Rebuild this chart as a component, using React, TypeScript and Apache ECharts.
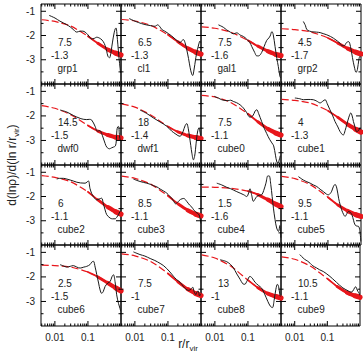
import React, { useEffect, useRef } from "react";
import * as echarts from "echarts";

// Radius (r / r_vir) grid for the fitted slope curves
const rFit = [0.004, 0.01, 0.03, 0.1, 0.2, 0.4, 0.7, 1.0];

// Fitted logarithmic slopes, one per halo, sampled on rFit
const grp1Fit = [-1.35, -1.42, -1.61, -2.03, -2.32, -2.58, -2.73, -2.8];
const cl1Fit = [-1.34, -1.4, -1.58, -1.97, -2.26, -2.53, -2.69, -2.77];
const gal1Fit = [-1.64, -1.7, -1.86, -2.2, -2.44, -2.65, -2.78, -2.83];
const grp2Fit = [-1.72, -1.76, -1.85, -2.1, -2.32, -2.54, -2.69, -2.76];
const dwf0Fit = [-1.58, -1.69, -1.95, -2.39, -2.62, -2.78, -2.87, -2.9];
const dwf1Fit = [-1.51, -1.64, -1.96, -2.43, -2.65, -2.8, -2.88, -2.92];
const cube0Fit = [-1.16, -1.23, -1.45, -1.91, -2.24, -2.53, -2.7, -2.78];
const cube1Fit = [-1.33, -1.37, -1.48, -1.79, -2.06, -2.35, -2.55, -2.66];
const cube2Fit = [-1.14, -1.21, -1.39, -1.81, -2.14, -2.44, -2.63, -2.73];
const cube3Fit = [-1.16, -1.25, -1.49, -1.97, -2.3, -2.57, -2.73, -2.8];
const cube4Fit = [-1.61, -1.62, -1.66, -1.78, -1.92, -2.13, -2.32, -2.42];
const cube5Fit = [-1.17, -1.26, -1.52, -2.03, -2.35, -2.6, -2.75, -2.82];
const cube6Fit = [-1.52, -1.54, -1.6, -1.8, -2.0, -2.25, -2.45, -2.57];
const cube7Fit = [-1.06, -1.14, -1.37, -1.86, -2.2, -2.5, -2.68, -2.76];
const cube8Fit = [-1.1, -1.23, -1.56, -2.13, -2.44, -2.68, -2.8, -2.86];
const cube9Fit = [-1.18, -1.28, -1.56, -2.07, -2.39, -2.64, -2.77, -2.83];

// Measured slope profiles: [r / r_vir, d ln rho / d ln r]
const grp1Profile = [[0.0067,-1.17],[0.0101,-1.28],[0.0143,-1.41],[0.0228,-1.55],[0.03,-1.66],[0.036,-1.75],[0.046,-1.86],[0.058,-1.82],[0.07,-1.82],[0.082,-1.86],[0.1,-1.97],[0.13,-2.14],[0.155,-2.12],[0.184,-2.07],[0.244,-2.14],[0.29,-2.25],[0.33,-2.41],[0.37,-2.65],[0.4,-2.85],[0.448,-2.92],[0.49,-2.75],[0.53,-2.44],[0.58,-2.1],[0.62,-1.89],[0.67,-1.72],[0.71,-1.69],[0.75,-1.9],[0.78,-2.17],[0.83,-2.6],[0.88,-2.99],[0.93,-3.3],[0.97,-3.54]];
const cl1Profile = [[0.0067,-1.3],[0.0101,-1.41],[0.016,-1.51],[0.022,-1.56],[0.029,-1.59],[0.041,-1.62],[0.048,-1.56],[0.056,-1.62],[0.065,-1.75],[0.08,-1.82],[0.103,-1.92],[0.13,-2.02],[0.164,-2.14],[0.2,-2.24],[0.233,-2.3],[0.26,-2.22],[0.295,-2.17],[0.33,-2.3],[0.37,-2.58],[0.42,-2.95],[0.47,-3.33],[0.52,-3.58],[0.56,-3.65],[0.6,-3.5],[0.65,-3.2],[0.7,-2.9],[0.78,-2.58],[0.86,-2.35],[0.93,-2.23],[0.98,-2.3]];
const gal1Profile = [[0.0128,-1.56],[0.018,-1.66],[0.0228,-1.77],[0.03,-1.87],[0.036,-1.93],[0.046,-1.89],[0.058,-1.98],[0.073,-2.04],[0.092,-2.15],[0.115,-2.3],[0.13,-2.45],[0.16,-2.7],[0.185,-2.84],[0.21,-2.84],[0.26,-2.7],[0.31,-2.45],[0.37,-2.2],[0.43,-2.1],[0.47,-2.02],[0.53,-1.84],[0.58,-1.95],[0.66,-2.45],[0.75,-2.95],[0.83,-3.28],[0.93,-3.69],[0.98,-3.75]];
const grp2Profile = [[0.018,-1.42],[0.021,-1.6],[0.0228,-1.75],[0.028,-1.82],[0.035,-1.85],[0.045,-1.86],[0.058,-1.88],[0.075,-1.93],[0.092,-1.97],[0.12,-2.04],[0.146,-2.11],[0.19,-2.22],[0.233,-2.32],[0.27,-2.42],[0.31,-2.42],[0.36,-2.3],[0.42,-2.25],[0.48,-2.45],[0.55,-2.9],[0.63,-3.3],[0.71,-3.52],[0.78,-3.4],[0.86,-3.0],[0.93,-2.86],[0.98,-2.9]];
const dwf0Profile = [[0.0143,-1.76],[0.0228,-1.84],[0.036,-1.98],[0.058,-2.1],[0.075,-2.14],[0.092,-2.15],[0.11,-2.14],[0.13,-2.17],[0.164,-2.42],[0.193,-2.62],[0.23,-2.6],[0.26,-2.72],[0.29,-2.9],[0.33,-3.12],[0.37,-3.27],[0.448,-3.34],[0.52,-3.3],[0.59,-3.27],[0.68,-3.22],[0.72,-3.0],[0.75,-2.6],[0.79,-2.45],[0.84,-2.43],[0.9,-2.8],[0.95,-3.0]];
const dwf1Profile = [[0.0143,-1.76],[0.0228,-1.9],[0.036,-2.08],[0.058,-2.25],[0.092,-2.42],[0.13,-2.62],[0.164,-2.72],[0.2,-2.8],[0.233,-2.83],[0.26,-2.75],[0.29,-2.62],[0.33,-2.4],[0.37,-2.31],[0.41,-2.5],[0.448,-2.83],[0.49,-3.2],[0.53,-3.52],[0.59,-3.79],[0.64,-3.65],[0.68,-3.38],[0.74,-2.9],[0.8,-2.6],[0.86,-2.5],[0.92,-2.62],[0.97,-2.8]];
const cube0Profile = [[0.0095,-1.2],[0.013,-1.28],[0.016,-1.34],[0.02,-1.37],[0.025,-1.38],[0.03,-1.36],[0.036,-1.41],[0.045,-1.46],[0.058,-1.55],[0.073,-1.68],[0.09,-1.85],[0.115,-2.05],[0.14,-2.0],[0.165,-1.8],[0.185,-1.75],[0.21,-1.9],[0.26,-2.23],[0.31,-2.5],[0.37,-2.72],[0.45,-2.95],[0.53,-3.1],[0.6,-3.22],[0.68,-3.6],[0.75,-3.88],[0.82,-3.92],[0.88,-3.8],[0.95,-3.62]];
const cube1Profile = [[0.01,-1.27],[0.014,-1.3],[0.018,-1.34],[0.025,-1.33],[0.036,-1.34],[0.046,-1.4],[0.058,-1.47],[0.07,-1.4],[0.082,-1.34],[0.095,-1.5],[0.115,-1.75],[0.14,-2.0],[0.164,-2.23],[0.2,-2.45],[0.233,-2.64],[0.29,-2.78],[0.33,-2.6],[0.37,-2.36],[0.43,-2.05],[0.49,-1.88],[0.54,-2.0],[0.59,-2.23],[0.66,-2.45],[0.74,-2.64],[0.84,-2.6],[0.93,-2.5],[0.98,-2.55]];
const cube2Profile = [[0.0114,-1.28],[0.014,-1.25],[0.018,-1.25],[0.023,-1.28],[0.029,-1.32],[0.036,-1.36],[0.046,-1.41],[0.06,-1.44],[0.082,-1.45],[0.103,-1.36],[0.115,-1.66],[0.13,-1.88],[0.146,-2.0],[0.185,-2.14],[0.22,-2.1],[0.26,-2.07],[0.29,-2.28],[0.33,-2.55],[0.37,-2.75],[0.47,-2.89],[0.55,-2.92],[0.66,-2.92],[0.75,-2.85],[0.84,-2.75],[0.93,-2.62],[0.98,-2.6]];
const cube3Profile = [[0.009,-1.28],[0.0143,-1.38],[0.0228,-1.45],[0.03,-1.5],[0.036,-1.55],[0.046,-1.6],[0.058,-1.69],[0.075,-1.78],[0.092,-1.86],[0.11,-1.97],[0.13,-2.07],[0.15,-2.2],[0.17,-2.3],[0.2,-2.22],[0.24,-2.12],[0.3,-2.08],[0.37,-2.2],[0.45,-2.35],[0.53,-2.44],[0.6,-2.55],[0.7,-2.65],[0.8,-2.7],[0.88,-2.76],[0.95,-2.95],[0.99,-3.12]];
const cube4Profile = [[0.0114,-1.45],[0.016,-1.52],[0.0228,-1.62],[0.03,-1.68],[0.036,-1.73],[0.046,-1.8],[0.058,-1.86],[0.075,-1.93],[0.092,-2.0],[0.105,-1.85],[0.115,-1.68],[0.13,-1.95],[0.146,-2.2],[0.165,-2.1],[0.185,-2.0],[0.22,-1.95],[0.26,-1.93],[0.3,-1.75],[0.35,-1.45],[0.4,-1.15],[0.44,-1.15],[0.49,-1.5],[0.54,-2.0],[0.59,-2.48],[0.66,-2.95],[0.74,-3.3],[0.84,-3.44],[0.92,-3.2],[0.99,-3.7]];
const cube5Profile = [[0.0128,-1.18],[0.018,-1.32],[0.023,-1.39],[0.029,-1.45],[0.036,-1.52],[0.046,-1.59],[0.058,-1.7],[0.073,-1.8],[0.09,-1.9],[0.103,-1.93],[0.118,-1.87],[0.13,-1.78],[0.145,-1.6],[0.164,-1.5],[0.185,-1.65],[0.21,-2.07],[0.235,-2.35],[0.26,-2.55],[0.3,-2.75],[0.33,-2.82],[0.37,-2.72],[0.42,-2.62],[0.47,-2.65],[0.53,-2.75],[0.6,-3.0],[0.66,-3.17],[0.75,-3.22],[0.84,-3.23],[0.92,-3.4],[0.99,-3.85]];
const cube6Profile = [[0.0143,-1.5],[0.018,-1.55],[0.0228,-1.6],[0.029,-1.57],[0.036,-1.54],[0.046,-1.6],[0.058,-1.64],[0.075,-1.6],[0.092,-1.57],[0.115,-1.5],[0.13,-1.4],[0.146,-1.36],[0.165,-1.6],[0.185,-1.91],[0.21,-2.25],[0.233,-2.53],[0.26,-2.67],[0.29,-2.6],[0.33,-2.39],[0.4,-2.25],[0.47,-2.19],[0.53,-2.0],[0.59,-1.91],[0.66,-2.19],[0.74,-2.73],[0.84,-3.08],[0.93,-3.28],[0.98,-3.4]];
const cube7Profile = [[0.009,-0.98],[0.0143,-1.09],[0.02,-1.15],[0.029,-1.25],[0.04,-1.33],[0.058,-1.45],[0.075,-1.55],[0.092,-1.66],[0.115,-1.8],[0.146,-1.97],[0.18,-2.1],[0.233,-2.22],[0.29,-2.38],[0.35,-2.5],[0.42,-2.55],[0.5,-2.5],[0.56,-2.42],[0.62,-2.6],[0.7,-2.72],[0.76,-2.6],[0.83,-2.58],[0.9,-2.78],[0.96,-2.72],[1.0,-2.68]];
const cube8Profile = [[0.0143,-1.3],[0.0228,-1.38],[0.03,-1.5],[0.036,-1.62],[0.046,-1.88],[0.058,-2.1],[0.07,-2.28],[0.08,-2.3],[0.095,-2.15],[0.115,-1.98],[0.135,-2.05],[0.164,-2.22],[0.21,-2.35],[0.26,-2.46],[0.32,-2.7],[0.4,-3.0],[0.48,-3.2],[0.55,-3.25],[0.62,-2.95],[0.7,-2.5],[0.78,-2.3],[0.85,-2.4],[0.93,-2.75],[0.98,-2.8]];
const cube9Profile = [[0.0143,-1.09],[0.02,-1.28],[0.025,-1.36],[0.03,-1.45],[0.036,-1.55],[0.046,-1.63],[0.058,-1.71],[0.075,-1.78],[0.092,-1.86],[0.12,-1.98],[0.146,-2.08],[0.19,-2.22],[0.233,-2.33],[0.3,-2.45],[0.37,-2.52],[0.45,-2.58],[0.53,-2.62],[0.6,-2.58],[0.68,-2.45],[0.74,-2.4],[0.8,-2.5],[0.87,-2.6],[0.93,-2.65],[0.98,-2.75]];

// Panel annotations (row-major order)
const haloNames = ["grp1", "cl1", "gal1", "grp2", "dwf0", "dwf1", "cube0", "cube1", "cube2", "cube3", "cube4", "cube5", "cube6", "cube7", "cube8", "cube9"];
const concentrations = ["7.5", "6.5", "7.5", "4.5", "14.5", "18", "7.5", "4", "6", "8.5", "1.5", "9.5", "2.5", "7.5", "13", "10.5"];
const innerSlopes = ["-1.3", "-1.3", "-1.6", "-1.7", "-1.5", "-1.4", "-1.1", "-1.3", "-1.1", "-1.1", "-1.6", "-1.1", "-1.5", "-1", "-1", "-1.1"];

const profiles = [grp1Profile, cl1Profile, gal1Profile, grp2Profile, dwf0Profile, dwf1Profile, cube0Profile, cube1Profile, cube2Profile, cube3Profile, cube4Profile, cube5Profile, cube6Profile, cube7Profile, cube8Profile, cube9Profile];
const fits = [grp1Fit, cl1Fit, gal1Fit, grp2Fit, dwf0Fit, dwf1Fit, cube0Fit, cube1Fit, cube2Fit, cube3Fit, cube4Fit, cube5Fit, cube6Fit, cube7Fit, cube8Fit, cube9Fit];

// Axis ticks
const xLabelValues = [0.01, 0.1];
const xMajorTicks = [0.01, 0.1];
const xMinorTicks = [0.004, 0.005, 0.006, 0.007, 0.008, 0.009, 0.02, 0.03, 0.04, 0.05, 0.06, 0.07, 0.08, 0.09, 0.2, 0.3, 0.4, 0.5, 0.6, 0.7, 0.8, 0.9];
const yMajorTicks = [-1, -2, -3];
const yMinorTicks = [-1.5, -2.5, -3.5];

const X_MIN = 0.0038;
const X_MAX = 1;
const Y_MIN = -4;
const Y_MAX = -0.7;

const COL_LEFT = [41, 121, 201, 281];
const ROW_TOP = [4, 84, 165, 245];
const ROW_H = [80, 81, 80, 81];
const PANEL_W = 80;

const FONT = "'Liberation Sans', Arial, Helvetica, sans-serif";
const RED = "#e8161b";
const INK = "#1a1a1a";

function tickRenderer(_params: any, api: any) {
  const bl = api.coord([X_MIN, Y_MIN]);
  const tr = api.coord([X_MAX, Y_MAX]);
  const children: any[] = [];
  const seg = (x1: number, y1: number, x2: number, y2: number) => ({
    type: "line",
    shape: { x1, y1, x2, y2 },
    style: { stroke: "#000", lineWidth: 1 },
  });
  const addX = (t: number, len: number) => {
    const x = api.coord([t, Y_MIN])[0];
    children.push(seg(x, bl[1], x, bl[1] - len), seg(x, tr[1], x, tr[1] + len));
  };
  const addY = (t: number, len: number) => {
    const y = api.coord([X_MIN, t])[1];
    children.push(seg(bl[0], y, bl[0] + len, y), seg(tr[0], y, tr[0] - len, y));
  };
  xMajorTicks.forEach((t) => addX(t, 5));
  xMinorTicks.forEach((t) => addX(t, 2.5));
  yMajorTicks.forEach((t) => addY(t, 5));
  yMinorTicks.forEach((t) => addY(t, 2.5));
  return { type: "group", children };
}

function buildOption() {
  const grid: any[] = [];
  const xAxis: any[] = [];
  const yAxis: any[] = [];
  const series: any[] = [];
  const graphic: any[] = [];

  for (let i = 0; i < 16; i++) {
    const row = Math.floor(i / 4);
    const col = i % 4;
    const left = COL_LEFT[col];
    const top = ROW_TOP[row];
    grid.push({
      left,
      top,
      width: PANEL_W,
      height: ROW_H[row],
      show: true,
      borderColor: "#000",
      borderWidth: 1,
      backgroundColor: "transparent",
    });
    xAxis.push({
      gridIndex: i,
      type: "log",
      logBase: 10,
      min: X_MIN,
      max: X_MAX,
      axisLine: { show: false },
      axisTick: { show: false },
      splitLine: { show: false },
      minorTick: { show: false },
      axisLabel: {
        show: row === 3,
        interval: 0,
        margin: 6,
        fontSize: 10,
        fontFamily: FONT,
        color: "#222",
        formatter: (v: number) => {
          const hit = xLabelValues.find((t) => Math.abs(Math.log10(v / t)) < 0.01);
          return hit !== undefined ? String(hit) : "";
        },
      },
    });
    yAxis.push({
      gridIndex: i,
      type: "value",
      min: Y_MIN,
      max: Y_MAX,
      interval: 1,
      axisLine: { show: false },
      axisTick: { show: false },
      splitLine: { show: false },
      axisLabel: {
        show: col === 0,
        margin: 6,
        fontSize: 10,
        fontFamily: FONT,
        color: "#222",
        showMinLabel: false,
        showMaxLabel: false,
      },
    });

    const fitPairs = rFit.map((r, k) => [r, fits[i][k]]);
    // thin dashed fit over the whole range
    series.push({
      type: "line",
      xAxisIndex: i,
      yAxisIndex: i,
      data: fitPairs,
      showSymbol: false,
      smooth: 0.25,
      lineStyle: { color: RED, width: 1.2, type: [7, 3] },
      z: 2,
    });
    // the fit band broadens toward the outer radii
    [
      { from: 3, width: 1.8 },
      { from: 4, width: 3 },
      { from: 5, width: 4.2 },
      { from: 6, width: 5.2 },
    ].forEach((b) => {
      series.push({
        type: "line",
        xAxisIndex: i,
        yAxisIndex: i,
        data: fitPairs.slice(b.from),
        showSymbol: false,
        smooth: 0.25,
        lineStyle: { color: RED, width: b.width, cap: "round" },
        z: 2,
      });
    });
    // measured profile
    series.push({
      type: "line",
      xAxisIndex: i,
      yAxisIndex: i,
      data: profiles[i],
      showSymbol: false,
      smooth: 0.35,
      lineStyle: { color: INK, width: 1 },
      z: 3,
    });
    // inward ticks on all four sides
    series.push({
      type: "custom",
      xAxisIndex: i,
      yAxisIndex: i,
      data: [[X_MIN, Y_MIN]],
      renderItem: tickRenderer,
      clip: false,
      silent: true,
      z: 4,
    });

    const textStyle = { fontSize: 10, fontFamily: FONT, fill: "#222", verticalAlign: "middle", align: "left" };
    graphic.push(
      { type: "text", x: left + 17, y: top + 38.5, style: { ...textStyle, text: concentrations[i] }, z: 10 },
      { type: "text", x: left + 10, y: top + 51, style: { ...textStyle, text: innerSlopes[i] }, z: 10 },
      { type: "text", x: left + 16.5, y: top + 64.5, style: { ...textStyle, text: haloNames[i] }, z: 10 }
    );
  }

  const titleRich = {
    m: { fontSize: 12, lineHeight: 16, fontFamily: FONT, fill: "#222" },
    s: { fontSize: 8, lineHeight: 8, verticalAlign: "bottom", fontFamily: FONT, fill: "#222" },
  };
  graphic.push(
    {
      type: "text",
      x: 12,
      y: 165,
      rotation: Math.PI / 2,
      style: {
        text: "{m|d(lnρ)/d(ln r/r}{s|vir}{m|)}",
        rich: titleRich,
        align: "center",
        verticalAlign: "middle",
      },
      z: 10,
    },
    {
      type: "text",
      x: 188,
      y: 344,
      style: {
        text: "{m|r/r}{s|vir}",
        rich: titleRich,
        align: "center",
        verticalAlign: "middle",
      },
      z: 10,
    }
  );

  return {
    animation: false,
    backgroundColor: "#fff",
    grid,
    xAxis,
    yAxis,
    series,
    graphic,
  };
}

export default function App() {
  const ref = useRef<HTMLDivElement>(null);
  useEffect(() => {
    if (!ref.current) return;
    const chart = echarts.init(ref.current, null, { renderer: "svg" });
    chart.setOption(buildOption() as any);
    return () => chart.dispose();
  }, []);
  return (
    <div
      ref={ref}
      style={{ position: "absolute", left: 0, top: 0, width: 363, height: 351, background: "#fff" }}
    />
  );
}
